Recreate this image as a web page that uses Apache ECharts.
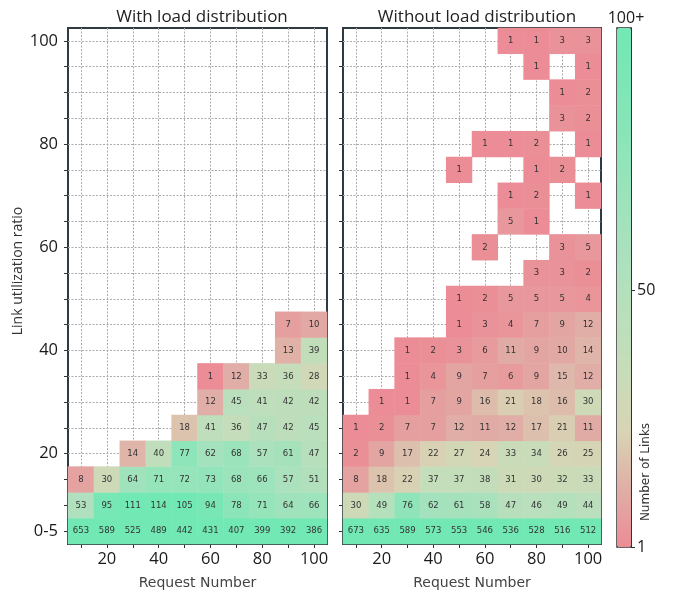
<!DOCTYPE html>
<html>
<head>
<meta charset="utf-8">
<script src="https://cdn.jsdelivr.net/npm/echarts@6/dist/echarts.min.js"></script>
<style>html,body{margin:0;padding:0;background:#fff}#c{width:681px;height:595px}</style>
</head>
<body>
<div id="c"></div>
<script>
// ---- data ----
const requestNumbers = ['10','20','30','40','50','60','70','80','90','100'];
const utilization = ['0-5','10','15','20','25','30','35','40','45','50','55','60','65','70','75','80','85','90','95','100'];
const xTickLabels = ['20','40','60','80','100'];
const yTickLabels = ['0-5','20','40','60','80','100'];
const colorbarTicks = [1, 50];
const _ = null;
// rows listed from bottom (0-5) to top (100); columns = request numbers 10..100
const withLoad = [
  [653,589,525,489,442,431,407,399,392,386],
  [53,95,111,114,105,94,78,71,64,66],
  [8,30,64,71,72,73,68,66,57,51],
  [_,_,14,40,77,62,68,57,61,47],
  [_,_,_,_,18,41,36,47,42,45],
  [_,_,_,_,_,12,45,41,42,42],
  [_,_,_,_,_,1,12,33,36,28],
  [_,_,_,_,_,_,_,_,13,39],
  [_,_,_,_,_,_,_,_,7,10]
];
const withoutLoad = [
  [673,635,589,573,553,546,536,528,516,512],
  [30,49,76,62,61,58,47,46,49,44],
  [8,18,22,37,37,38,31,30,32,33],
  [2,9,17,22,27,24,33,34,26,25],
  [1,2,7,7,12,11,12,17,21,11],
  [_,1,1,7,9,16,21,18,16,30],
  [_,_,1,4,9,7,6,9,15,12],
  [_,_,1,2,3,6,11,9,10,14],
  [_,_,_,_,1,3,4,7,9,12],
  [_,_,_,_,1,2,5,5,5,4],
  [_,_,_,_,_,_,_,3,3,2],
  [_,_,_,_,_,2,_,_,3,5],
  [_,_,_,_,_,_,5,1,_,_],
  [_,_,_,_,_,_,1,2,_,1],
  [_,_,_,_,1,_,_,1,2,_],
  [_,_,_,_,_,1,1,2,_,1],
  [_,_,_,_,_,_,_,_,3,2],
  [_,_,_,_,_,_,_,_,1,2],
  [_,_,_,_,_,_,_,1,_,1],
  [_,_,_,_,_,_,1,1,3,3]
];
const colorStops = ['#ec8c96','#e0aea6','#d8d4b5','#c8dcb9','#badfbc','#ace1bd','#9ce3bb','#8ce5b9','#7ee6b6','#72e8b4'];

function toCells(rows){
  const out=[];
  rows.forEach((row,yi)=>row.forEach((v,xi)=>{ if(v!=null) out.push([xi,yi,v]); }));
  return out;
}

const tickFont = "'Open Sans', 'Liberation Sans', sans-serif";
const mplFont = "'DejaVu Sans', sans-serif";
const gridLine = {show:true, interval:0, alignWithLabel:true, lineStyle:{color:'#acacac', type:[2,1.5], width:1}};

function xAx(gi){
  return {
    type:'category', gridIndex:gi, data:requestNumbers,
    axisLine:{show:false},
    axisTick:{show:true, interval:0, alignWithLabel:true, length:4, lineStyle:{color:'#333'}},
    axisLabel:{interval:(i,v)=>xTickLabels.includes(v), fontSize:16.5, color:'#1a1a1a', fontFamily:tickFont, margin:7},
    splitLine:gridLine,
    name:'Request Number', nameLocation:'middle', nameGap:32,
    nameTextStyle:{fontSize:14, color:'#444', fontFamily:mplFont}
  };
}
function yAx(gi, showLabels){
  return {
    type:'category', gridIndex:gi, data:utilization,
    axisLine:{show:false},
    axisTick:{show:true, interval:0, alignWithLabel:true, length:4, lineStyle:{color:'#333'}},
    axisLabel:{show:showLabels, interval:(i,v)=>yTickLabels.includes(v), fontSize:16.5, color:'#1a1a1a', fontFamily:tickFont, margin:10},
    splitLine:gridLine
  };
}
function heat(xi, rows){
  return {
    type:'heatmap', xAxisIndex:xi, yAxisIndex:xi, data:toCells(rows),
    label:{show:true, formatter:p=>p.value[2], fontSize:8.5, color:'#333', fontFamily:mplFont},
    emphasis:{disabled:true}, itemStyle:{borderWidth:0}
  };
}

const chart = echarts.init(document.getElementById('c'), null, {renderer:'canvas'});
chart.setOption({
  animation:false,
  backgroundColor:'#fff',
  title:[
    {text:'With load distribution', left:197, top:4, textAlign:'center', textStyle:{fontSize:17, fontWeight:'normal', color:'#222', fontFamily:tickFont}},
    {text:'Without load distribution', left:472, top:4, textAlign:'center', textStyle:{fontSize:17, fontWeight:'normal', color:'#222', fontFamily:tickFont}}
  ],
  grid:[
    {left:68, top:28, width:259, height:519, show:true, borderColor:'#2f3b40', borderWidth:2, backgroundColor:'transparent'},
    {left:343, top:28, width:258, height:519, show:true, borderColor:'#2f3b40', borderWidth:2, backgroundColor:'transparent'},
    {left:617, top:28, width:14, height:519, show:true, borderColor:'#333', borderWidth:1.5, backgroundColor:'transparent'}
  ],
  xAxis:[xAx(0), xAx(1), {type:'category', gridIndex:2, show:false, data:['c']}],
  yAxis:[yAx(0,true), yAx(1,false), {
    type:'value', gridIndex:2, position:'right', min:1, max:100,
    axisLine:{show:true, lineStyle:{color:'#333'}},
    axisTick:{show:true, length:4, customValues:colorbarTicks, lineStyle:{color:'#333'}},
    axisLabel:{show:true, customValues:colorbarTicks, fontSize:16, color:'#1a1a1a', fontFamily:tickFont, margin:6},
    splitLine:{show:false}
  }],
  visualMap:{
    type:'continuous', min:1, max:100, dimension:2, seriesIndex:[0,1],
    calculable:false, orient:'vertical', left:617, top:28, itemWidth:14, itemHeight:519,
    inRange:{color:colorStops}, hoverLink:false, padding:0, z:1
  },
  graphic:[
    {type:'text', x:18, y:271, rotation:Math.PI/2, style:{text:'Link utilization ratio', fill:'#333', font:"14px 'Open Sans', sans-serif", textAlign:'center', textVerticalAlign:'middle'}},
    {type:'text', x:626, y:18, style:{text:'100+', fill:'#1a1a1a', font:"16px 'Open Sans', sans-serif", textAlign:'center', textVerticalAlign:'middle'}},
    {type:'text', x:646, y:472, rotation:Math.PI/2, style:{text:'Number of Links', fill:'#333', font:"12px 'DejaVu Sans', sans-serif", textAlign:'center', textVerticalAlign:'middle'}}
  ],
  series:[heat(0, withLoad), heat(1, withoutLoad)]
});
</script>
</body>
</html>
